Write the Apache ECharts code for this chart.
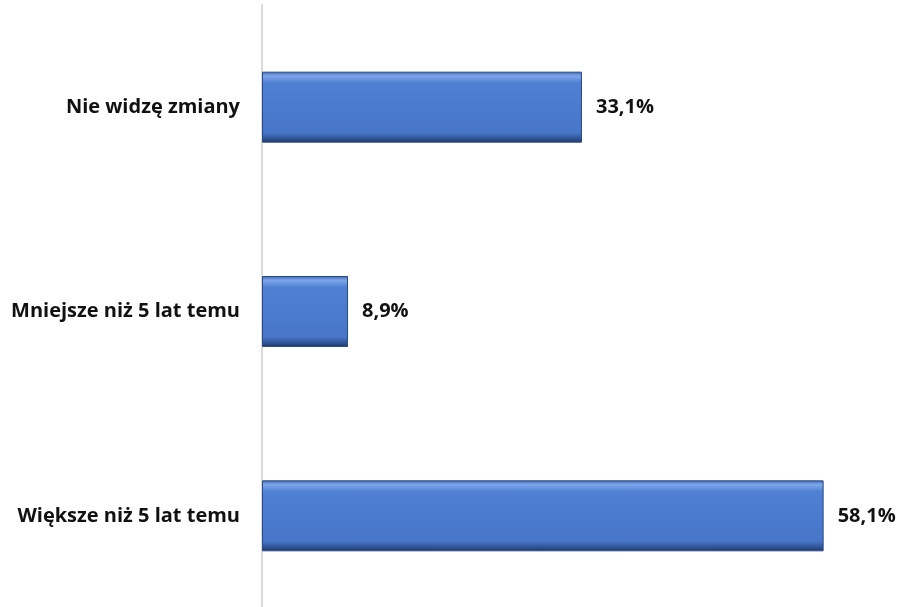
<!DOCTYPE html>
<html><head><meta charset="utf-8">
<script src="https://cdn.jsdelivr.net/npm/echarts@6/dist/echarts.min.js"></script>
<style>html,body{margin:0;padding:0;background:#fff}#c{width:899px;height:607px}</style>
</head><body><div id="c"></div>
<script>
const categories = ['Nie widzę zmiany', 'Mniejsze niż 5 lat temu', 'Większe niż 5 lat temu'];
const values = [33.1, 8.9, 58.1];

const chart = echarts.init(document.getElementById('c'), null, {renderer: 'canvas'});
const barColor = {
  type: 'linear', x: 0, y: 0, x2: 0, y2: 1,
  colorStops: [
    {offset: 0, color: '#3f67b0'},
    {offset: 0.06, color: '#7ea6ea'},
    {offset: 0.16, color: '#4f80d4'},
    {offset: 0.5, color: '#4a7bcf'},
    {offset: 0.86, color: '#4876c8'},
    {offset: 0.94, color: '#2f5497'},
    {offset: 1, color: '#1f3866'}
  ]
};
chart.setOption({
  animation: false,
  grid: {left: 262, width: 580, top: 5, height: 613, containLabel: false, outerBoundsMode: 'none'},
  xAxis: {type: 'value', min: 0, max: 60, show: false},
  yAxis: {
    type: 'category', data: categories, inverse: true,
    axisLine: {show: true, lineStyle: {color: '#d9d9d9', width: 2}},
    axisTick: {show: false},
    axisLabel: {margin: 22, color: '#111', fontSize: 20, fontWeight: 'bold', fontFamily: 'Open Sans'}
  },
  series: [{
    type: 'bar', data: values, barWidth: 71,
    itemStyle: {color: barColor, borderColor: '#2a4a85', borderWidth: 1},
    label: {show: true, position: 'right', distance: 14, color: '#111', fontSize: 20,
      fontWeight: 'bold', fontFamily: 'Open Sans',
      formatter: p => p.value.toFixed(1).replace('.', ',') + '%'}
  }]
});
</script></body></html>
